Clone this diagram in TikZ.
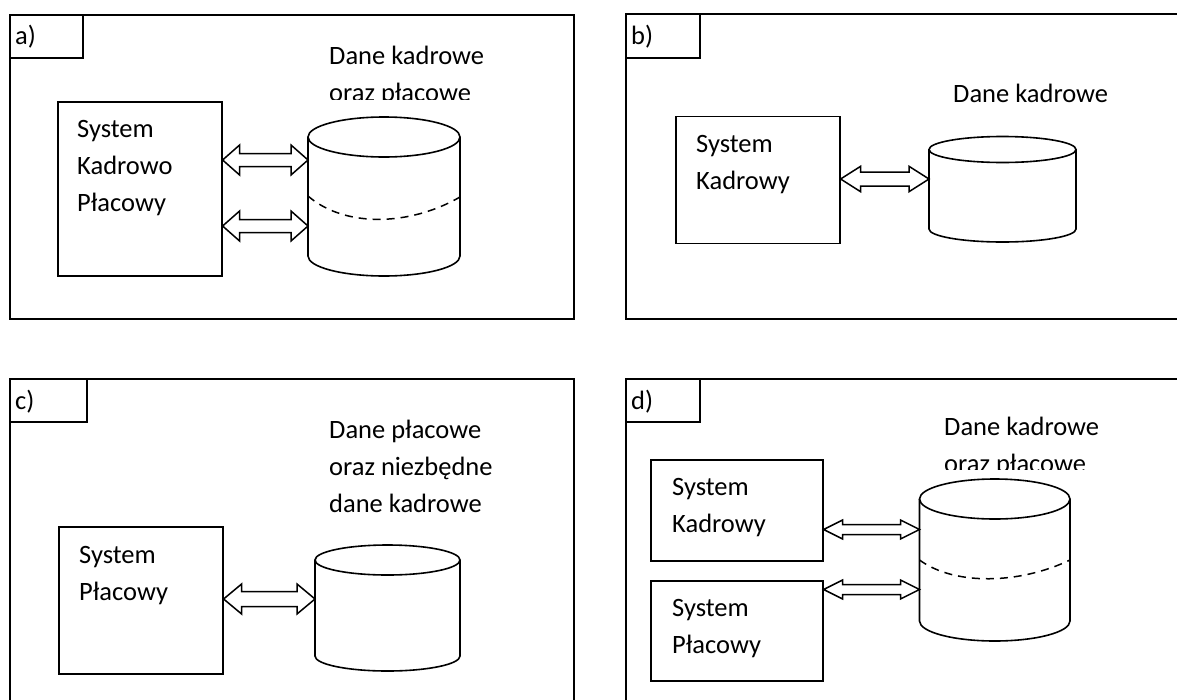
\documentclass[tikz,border=0pt]{standalone}
\usepackage{fontspec}
\setmainfont{Carlito}

\begin{document}
\begin{tikzpicture}[x=1pt, y=-1pt,
    every node/.style={inner sep=0pt, font=\fontsize{26.5}{37}\selectfont},
    frame/.style={draw, line width=1.6pt},
    sysbox/.style={draw, line width=1.6pt, anchor=north west},
    txt/.style={anchor=base west, align=left},
    dbline/.style={line width=1.6pt},
    split/.style={line width=1.5pt, dash pattern=on 8pt off 6pt},
    dblarrow/.style n args={3}{line width=1.5pt, to path={(\tikztostart)
      -- ([shift={(#1,-#2)}]\tikztostart) -- ([shift={(#1,-#3)}]\tikztostart)
      -- ([shift={(-#1,-#3)}]\tikztotarget) -- ([shift={(-#1,-#2)}]\tikztotarget)
      -- (\tikztotarget)
      -- ([shift={(-#1,#2)}]\tikztotarget) -- ([shift={(-#1,#3)}]\tikztotarget)
      -- ([shift={(#1,#3)}]\tikztostart) -- ([shift={(#1,#2)}]\tikztostart) -- cycle}}
  ]
  \useasboundingbox (0,0) rectangle (1177,699);

  % a)
  \draw[frame] (10,15) rectangle (574,319);
  \draw[frame] (10,15) rectangle (83,58);
  \node[txt] (labA) at (15,44) {a)};
  \node[sysbox, minimum width=164pt, minimum height=174pt] (sysA) at (57,101) {};
  \node[txt] (sysAtxt) at (77,211) {System\\Kadrowo\\Płacowy};
  \begin{scope}
    \clip (300,20) rectangle (570,99);
    \node[txt] (dbAtxt) at (329,101) {Dane kadrowe\\oraz płacowe};
  \end{scope}
  \coordinate (dbA) at (384,137);
  \draw[dbline] (dbA) ellipse [x radius=76, y radius=20];
  \draw[dbline] (308,137) -- (308,256) arc[start angle=180, end angle=0, x radius=76, y radius=20] -- (460,137);
  \draw[split] (308,196) .. controls (345,228) and (410,226) .. (460,197);
  \coordinate (dbAin1) at (308,160);
  \coordinate (dbAin2) at (308,226);
  \coordinate (sysAout1) at (sysA.east |- dbAin1);
  \coordinate (sysAout2) at (sysA.east |- dbAin2);
  \draw[dblarrow={17}{15}{6.5}] (sysAout1) to (dbAin1);
  \draw[dblarrow={17}{15}{6.5}] (sysAout2) to (dbAin2);

  % b)
  \draw[frame] (1190,14) -- (626,14) -- (626,319) -- (1190,319);
  \draw[frame] (626,14) rectangle (700,58);
  \node[txt] (labB) at (631,44) {b)};
  \node[sysbox, minimum width=164pt, minimum height=127pt] (sysB) at (675,115.5) {};
  \node[txt] (sysBtxt) at (696,189.5) {System\\Kadrowy};
  \node[txt] (dbBtxt) at (953,102) {Dane kadrowe};
  \coordinate (dbB) at (1002.5,149.5);
  \draw[dbline] (dbB) ellipse [x radius=73.5, y radius=13];
  \draw[dbline] (929,149.5) -- (929,229) arc[start angle=180, end angle=0, x radius=73.5, y radius=13] -- (1076,149.5);
  \coordinate (dbBin) at (929,179);
  \coordinate (sysBout) at (sysB.east |- dbBin);
  \draw[dblarrow={20}{12.7}{7}] (sysBout) to (dbBin);

  % c)
  \draw[frame] (10,720) -- (10,379) -- (574,379) -- (574,720);
  \draw[frame] (10,379) rectangle (87,422);
  \node[txt] (labC) at (15,409) {c)};
  \node[sysbox, minimum width=164pt, minimum height=147pt] (sysC) at (58,526) {};
  \node[txt] (sysCtxt) at (79,600) {System\\Płacowy};
  \node[txt] (dbCtxt) at (329,512) {Dane płacowe\\oraz niezbędne\\dane kadrowe};
  \coordinate (dbC) at (387.5,560);
  \draw[dbline] (dbC) ellipse [x radius=72.5, y radius=15];
  \draw[dbline] (315,560) -- (315,656) arc[start angle=180, end angle=0, x radius=72.5, y radius=15] -- (460,560);
  \coordinate (dbCin) at (315,599);
  \coordinate (sysCout) at (sysC.east |- dbCin);
  \draw[dblarrow={18}{15}{7.5}] (sysCout) to (dbCin);

  % d)
  \draw[frame] (626,720) -- (626,379) -- (1190,379);
  \draw[frame] (626,379) rectangle (700,422);
  \node[txt] (labD) at (631,409) {d)};
  \node[sysbox, minimum width=172pt, minimum height=101pt] (sysD1) at (650,459) {};
  \node[txt] (sysD1txt) at (672,532) {System\\Kadrowy};
  \node[sysbox, minimum width=172pt, minimum height=100pt] (sysD2) at (650,580) {};
  \node[txt] (sysD2txt) at (672,653) {System\\Płacowy};
  \begin{scope}
    \clip (900,390) rectangle (1170,469);
    \node[txt] (dbDtxt) at (944,472) {Dane kadrowe\\oraz płacowe};
  \end{scope}
  \coordinate (dbD) at (994.75,499);
  \draw[dbline] (dbD) ellipse [x radius=75.25, y radius=20];
  \draw[dbline] (919.5,499) -- (919.5,621) arc[start angle=180, end angle=0, x radius=75.25, y radius=20] -- (1070,499);
  \draw[split] (919.5,560) .. controls (955,586) and (1020,584) .. (1070,560);
  \coordinate (dbDin1) at (919.5,529.5);
  \coordinate (dbDin2) at (919.5,589.5);
  \coordinate (sysDout1) at (sysD1.east |- dbDin1);
  \coordinate (sysDout2) at (sysD2.east |- dbDin2);
  \draw[dblarrow={19}{9.5}{5}] (sysDout1) to (dbDin1);
  \draw[dblarrow={19}{9.5}{5}] (sysDout2) to (dbDin2);
\end{tikzpicture}
\end{document}
